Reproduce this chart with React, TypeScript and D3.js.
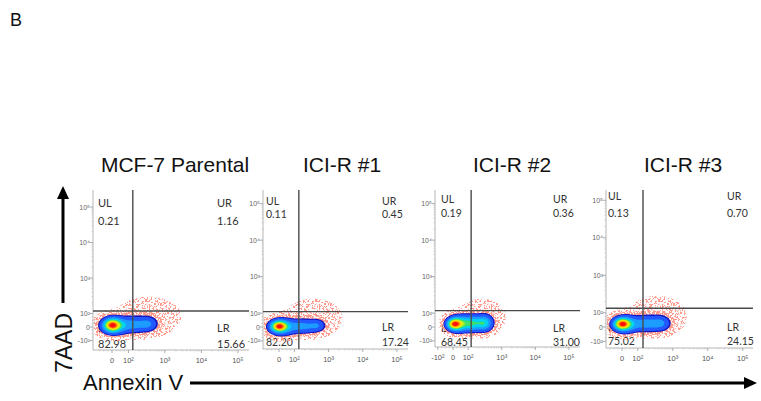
import React, { useMemo } from "react";
import * as d3 from "d3";

// ---------- data ----------
const titles = ["MCF-7 Parental", "ICI-R #1", "ICI-R #2", "ICI-R #3"];
const ulValues = ["0.21", "0.11", "0.19", "0.13"];
const urValues = ["1.16", "0.45", "0.36", "0.70"];
const llValues = ["82.98", "82.20", "68.45", "75.02"];
const lrValues = ["15.66", "17.24", "31.00", "24.15"];
// quadrant gates in display (decade) units
const gateX = [0.57, 0.58, 0.54, 0.6];
const gateY = [0.45, 0.42, 0.45, 0.5];
// axis ticks (display units)
const xTickLabels = ["-10²", "0", "10²", "10³", "10⁴", "10⁵"];
const xTickPos = [-0.45, 0, 0.45, 1.45, 2.45, 3.45];
const yTickLabels = ["-10²", "0", "10²", "10³", "10⁴", "10⁵"];
const yTickPos = [-0.38, 0, 0.38, 1.38, 2.38, 3.38];
const xTicksShown = [[1, 2, 3, 4, 5], [1, 2, 3, 4, 5], [0, 1, 2, 3, 4, 5], [1, 2, 3, 4, 5]];
// density components per panel: [cx, cy, sx, sy, weight]
const popP1 = [
  [0.0, 0.05, 0.14, 0.11, 1.0],
  [0.08, 0.04, 0.22, 0.14, 0.5],
  [0.62, 0.07, 0.3, 0.14, 0.32],
  [1.0, 0.09, 0.14, 0.12, 0.18],
  [1.0, 0.3, 0.55, 0.34, 0.02],
];
const popP2 = [
  [0.0, 0.02, 0.14, 0.09, 1.0],
  [0.08, 0.0, 0.22, 0.13, 0.5],
  [0.68, 0.02, 0.3, 0.12, 0.32],
  [1.12, 0.04, 0.14, 0.1, 0.18],
  [1.0, 0.25, 0.52, 0.32, 0.02],
];
const popP3 = [
  [0.03, 0.08, 0.13, 0.09, 1.0],
  [0.12, 0.08, 0.16, 0.13, 0.55],
  [0.52, 0.1, 0.28, 0.13, 0.75],
  [0.95, 0.11, 0.14, 0.13, 0.45],
  [0.85, 0.3, 0.45, 0.3, 0.02],
];
const popP4 = [
  [0.0, 0.08, 0.14, 0.09, 1.0],
  [0.08, 0.07, 0.2, 0.13, 0.6],
  [0.7, 0.09, 0.32, 0.13, 0.38],
  [1.12, 0.1, 0.15, 0.12, 0.2],
  [1.0, 0.32, 0.52, 0.32, 0.02],
];
const populations = [popP1, popP2, popP3, popP4];
const speckleLevels = [0.0035, 0.018];
const solidLevels = [0.055, 0.08, 0.18, 0.3, 0.42, 0.52, 0.62, 0.75, 0.87];
const solidColors = ["#1212c0", "#2258ff", "#1a9cff", "#00d4f0", "#3ee06a", "#b8f028", "#ffe000", "#ff8000", "#ff1010"];

// ---------- layout ----------
const layouts = [
  { x0: 112, dx: 36.5, left: 93, right: 249, y0: 327, dy: 35.5, top: 190, bottom: 350, titleX: 175, ulX: 98, urX: 217, topY: [207, 225], botY: [332, 348], fs: 11 },
  { x0: 279, dx: 34.2, left: 263, right: 408, y0: 327, dy: 36.5, top: 190, bottom: 349, titleX: 342, ulX: 266, urX: 382, topY: [205, 218], botY: [331, 346], fs: 10.5 },
  { x0: 453, dx: 33.6, left: 435, right: 580, y0: 327, dy: 36.5, top: 190, bottom: 347, titleX: 512, ulX: 441, urX: 553, topY: [203, 217], botY: [332, 346], fs: 10.5 },
  { x0: 622, dx: 35, left: 606, right: 753, y0: 327, dy: 37.5, top: 190, bottom: 348, titleX: 683, ulX: 608, urX: 727, topY: [200, 217], botY: [331, 345], fs: 10.5 },
];

const ARIAL = "'Liberation Sans', Arial, sans-serif";
const LABEL = "Lato, 'Open Sans', sans-serif";

function density(comps: number[][], x: number, y: number) {
  let s = 0;
  for (const [cx, cy, sx, sy, w] of comps) {
    const a = (x - cx) / sx, b = (y - cy) / sy;
    s += w * Math.exp(-0.5 * (a * a + b * b));
  }
  return s;
}

function Panel({ i }: { i: number }) {
  const L = layouts[i];
  const xs = d3.scaleLinear().domain([0, 1]).range([L.x0, L.x0 + L.dx]);
  const ys = d3.scaleLinear().domain([0, 1]).range([L.y0, L.y0 - L.dy]);
  const w = L.right - L.left, h = L.bottom - L.top;
  const contours = useMemo(() => {
    const vals = new Array(w * h);
    let mx = 0;
    for (let j = 0; j < h; j++)
      for (let k = 0; k < w; k++) {
        const v = density(populations[i], xs.invert(L.left + k + 0.5), ys.invert(L.top + j + 0.5));
        vals[j * w + k] = v;
        if (v > mx) mx = v;
      }
    for (let n = 0; n < vals.length; n++) vals[n] /= mx;
    return d3.contours().size([w, h]).thresholds([...speckleLevels, ...solidLevels])(vals);
  }, [i]);
  const path = d3.geoPath();
  const minorY: number[] = [];
  for (let d = 2; d < 5; d++) for (let k = 2; k < 10; k++) minorY.push(yTickPos[2] + (d - 2) + Math.log10(k));
  for (let k = -3; k <= 3; k++) if (k !== 0) minorY.push((k / 4) * yTickPos[2]);
  const minorX: number[] = [];
  for (let d = 2; d < 5; d++) for (let k = 2; k < 10; k++) minorX.push(xTickPos[2] + (d - 2) + Math.log10(k));
  for (let k = -3; k <= 3; k++) if (k !== 0) minorX.push((k / 4) * xTickPos[2]);
  const clipId = `clip${i}`;
  const labelFill = "#333";
  return (
    <g>
      <defs>
        <clipPath id={clipId}>
          <rect x={L.left + 1} y={L.top} width={w - 1} height={h - 1} />
        </clipPath>
      </defs>
      <text x={L.titleX} y={172} textAnchor="middle" fontFamily={ARIAL} fontSize={21} fill="#111">{titles[i]}</text>
      {/* axes */}
      <line x1={L.left} x2={L.left} y1={L.top} y2={L.bottom} stroke="#b5b5b5" strokeWidth={1} />
      <line x1={L.left} x2={L.right} y1={L.bottom} y2={L.bottom} stroke="#b5b5b5" strokeWidth={1} />
      {minorY.filter(v => ys(v) > L.top && ys(v) < L.bottom).map((v, n) => (
        <line key={"my" + n} x1={L.left - 1.5} x2={L.left} y1={ys(v)} y2={ys(v)} stroke="#bbb" strokeWidth={0.6} />
      ))}
      {yTickPos.map((v, n) => (
        <g key={"yt" + n}>
          <line x1={L.left - 3} x2={L.left} y1={ys(v)} y2={ys(v)} stroke="#999" strokeWidth={0.8} />
          <text x={L.left - 3} y={ys(v) + 2.5} textAnchor="end" fontFamily={ARIAL} fontSize={7} fill="#666">{yTickLabels[n]}</text>
        </g>
      ))}
      {minorX.filter(v => xs(v) > L.left && xs(v) < L.right).map((v, n) => (
        <line key={"mx" + n} x1={xs(v)} x2={xs(v)} y1={L.bottom} y2={L.bottom + 1.5} stroke="#bbb" strokeWidth={0.6} />
      ))}
      {xTicksShown[i].map(n => (
        <g key={"xt" + n}>
          <line x1={xs(xTickPos[n])} x2={xs(xTickPos[n])} y1={L.bottom} y2={L.bottom + 3} stroke="#999" strokeWidth={0.8} />
          <text x={xs(xTickPos[n])} y={L.bottom + 13} textAnchor="middle" fontFamily={ARIAL} fontSize={7.5} fill="#555">{xTickLabels[n]}</text>
        </g>
      ))}
      {/* quadrant labels */}
      <g fontFamily={LABEL} fontSize={L.fs} fill={labelFill}>
        <text x={L.ulX} y={L.topY[0]}>UL</text>
        <text x={L.ulX} y={L.topY[1]}>{ulValues[i]}</text>
        <text x={L.urX} y={L.topY[0]}>UR</text>
        <text x={L.urX} y={L.topY[1]}>{urValues[i]}</text>
        <text x={L.ulX} y={L.botY[0]}>LL</text>
        <text x={L.ulX} y={L.botY[1]}>{llValues[i]}</text>
        <text x={L.urX} y={L.botY[0]}>LR</text>
        <text x={L.urX} y={L.botY[1]}>{lrValues[i]}</text>
      </g>
      {/* density */}
      <g clipPath={`url(#${clipId})`}>
        <g transform={`translate(${L.left},${L.top})`}>
          <path d={path(contours[0] as any) || ""} fill="#f00" filter="url(#speckSparse)" />
          <path d={path(contours[1] as any) || ""} fill="#f00" filter="url(#speckDense)" />
          <g filter="url(#smooth)">
            {contours.slice(2).map((c, n) => (
              <path key={n} d={path(c as any) || ""} fill={solidColors[n]} />
            ))}
          </g>
        </g>
      </g>
      {/* gates */}
      <line x1={xs(gateX[i])} x2={xs(gateX[i])} y1={L.top} y2={L.bottom} stroke="#4a4a4a" strokeWidth={1.4} />
      <line x1={L.left} x2={L.right} y1={ys(gateY[i])} y2={ys(gateY[i])} stroke="#4a4a4a" strokeWidth={1.4} />
    </g>
  );
}

export default function App() {
  return (
    <svg width={761} height={401} viewBox="0 0 761 401" style={{ position: "absolute", left: 0, top: 0, background: "#fff" }}>
      <defs>
        <filter id="speckSparse" x="-10%" y="-10%" width="120%" height="120%">
          <feTurbulence type="fractalNoise" baseFrequency="0.55" numOctaves="2" seed="7" result="n" />
          <feColorMatrix in="n" type="matrix" values="0 0 0 0 1  0 0 0 0 0.32  0 0 0 0 0.26  16 0 0 0 -8.5" result="d" />
          <feComposite in="d" in2="SourceAlpha" operator="in" />
        </filter>
        <filter id="speckDense" x="-10%" y="-10%" width="120%" height="120%">
          <feTurbulence type="fractalNoise" baseFrequency="0.55" numOctaves="2" seed="19" result="n" />
          <feColorMatrix in="n" type="matrix" values="0 0 0 0 1  0 0 0 0 0.32  0 0 0 0 0.26  16 0 0 0 -7.3" result="d" />
          <feComposite in="d" in2="SourceAlpha" operator="in" />
        </filter>
        <filter id="smooth" x="-10%" y="-10%" width="120%" height="120%">
          <feGaussianBlur stdDeviation="0.6" />
        </filter>
      </defs>
      <rect width={761} height={401} fill="#fff" />
      <text x={10} y={26} fontFamily={ARIAL} fontSize={18} fill="#111">B</text>
      {[0, 1, 2, 3].map(i => <Panel key={i} i={i} />)}
      {/* y arrow */}
      <line x1={63} x2={63} y1={303} y2={196} stroke="#000" strokeWidth={3} />
      <polygon points="63,186 57,199 69,199" fill="#000" />
      <text transform="translate(72,343) rotate(-90)" textAnchor="middle" fontFamily={ARIAL} fontSize={23} fill="#111">7AAD</text>
      {/* x arrow */}
      <text x={83} y={390} fontFamily={ARIAL} fontSize={22} fill="#111">Annexin V</text>
      <line x1={190} x2={746} y1={383} y2={383} stroke="#000" strokeWidth={3} />
      <polygon points="757,383 744,377 744,389" fill="#000" />
    </svg>
  );
}
